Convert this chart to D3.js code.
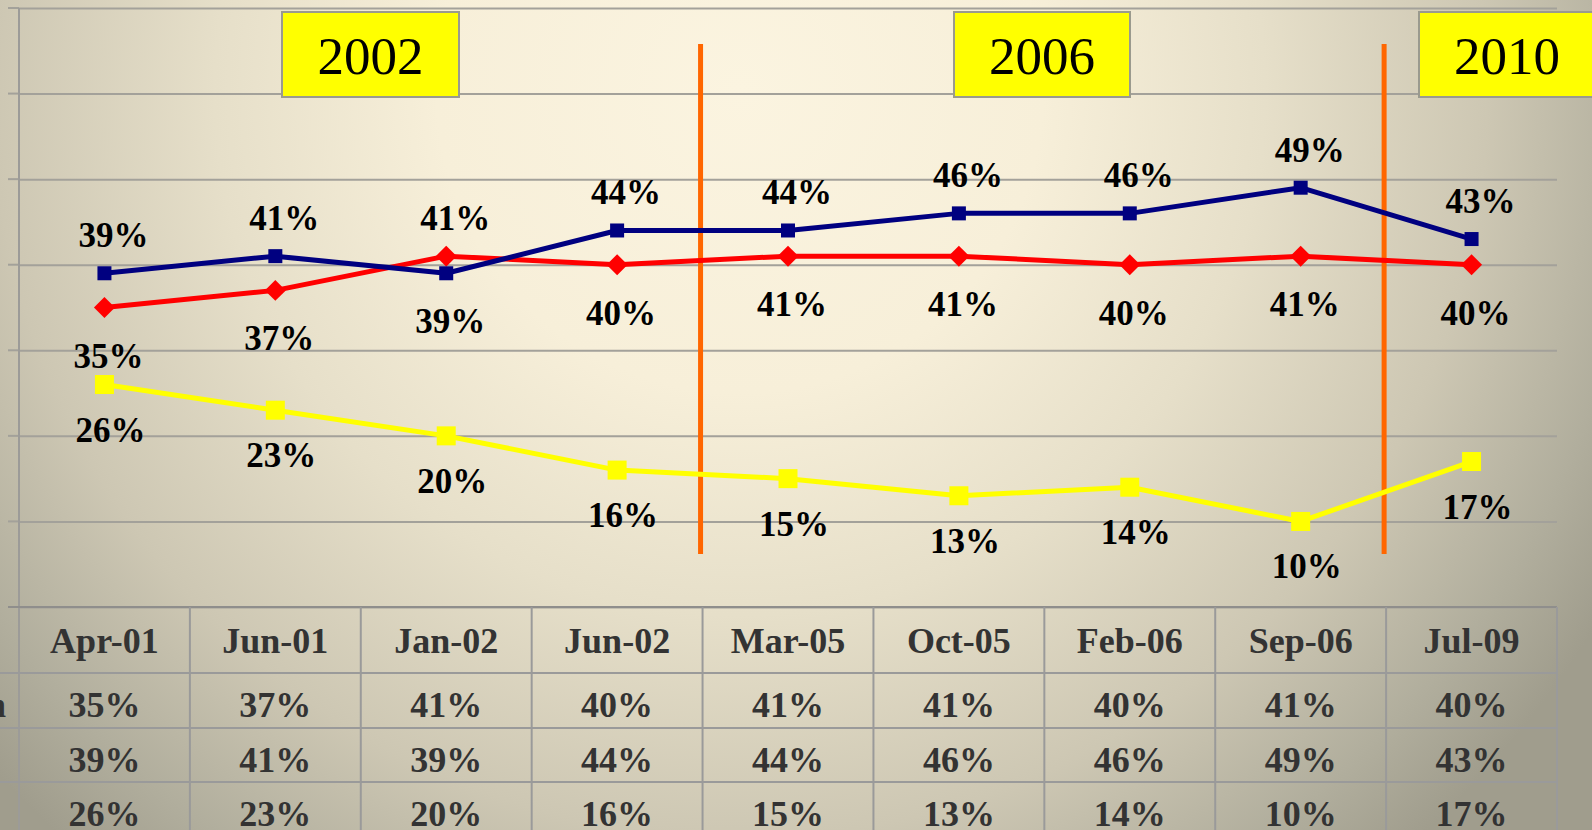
<!DOCTYPE html>
<html>
<head>
<meta charset="utf-8">
<script src="https://cdn.jsdelivr.net/npm/d3@7/dist/d3.min.js"></script>
<style>
  html, body { margin: 0; padding: 0; overflow: hidden; background: #c8c2ae; }
  svg { display: block; }
</style>
</head>
<body>
<svg id="chart" width="1592" height="830"></svg>
<script>
// ---- data ----
const categories = ["Apr-01", "Jun-01", "Jan-02", "Jun-02", "Mar-05", "Oct-05", "Feb-06", "Sep-06", "Jul-09"];
const redValues = [35, 37, 41, 40, 41, 41, 40, 41, 40];
const blueValues = [39, 41, 39, 44, 44, 46, 46, 49, 43];
const yellowValues = [26, 23, 20, 16, 15, 13, 14, 10, 17];
const yTicks = [0, 10, 20, 30, 40, 50, 60, 70];
const yearLabels = ["2002", "2006", "2010"];
const rowLabels = ["Opposition", "", ""];

(function () {
// ---- layout ----
const W = 1592, H = 830;
const pLeft = 19, pRight = 1557, pTop = 8, pBottom = 607;
const FONT = "'Liberation Serif', 'Times New Roman', serif";

const svg = d3.select("#chart");
const defs = svg.append("defs");
const grad = defs.append("radialGradient")
  .attr("id", "bg").attr("gradientUnits", "userSpaceOnUse")
  .attr("cx", 740).attr("cy", 90).attr("r", 1010);
[[0, "#fbf4e0"], [0.3, "#f7efd9"], [0.52, "#e6dfc9"], [0.74, "#cdc7b3"], [0.9, "#b1ae9d"], [1, "#a09d8d"]]
  .forEach(([o, c]) => grad.append("stop").attr("offset", o).attr("stop-color", c));
svg.append("rect").attr("width", W).attr("height", H).attr("fill", "url(#bg)");

const x = d3.scaleBand().domain(categories).range([pLeft, pRight]).paddingInner(0).paddingOuter(0);
const cx = d => x(d) + x.bandwidth() / 2;
const y = d3.scaleLinear().domain([0, 70]).range([pBottom, pTop]);

// gridlines
const yAxis = d3.axisLeft(y).tickValues(yTicks).tickSize(-(pRight - pLeft)).tickFormat("");
const gAxis = svg.append("g").attr("transform", `translate(${pLeft},0)`).call(yAxis);
gAxis.select(".domain").remove();
gAxis.selectAll(".tick line").attr("stroke", "#a3a19a").attr("stroke-width", 2);
svg.append("g").selectAll("line").data(yTicks).join("line")
  .attr("x1", 8).attr("x2", pLeft).attr("y1", d => y(d)).attr("y2", d => y(d))
  .attr("stroke", "#a3a19a").attr("stroke-width", 2);
svg.append("line").attr("x1", pLeft).attr("x2", pLeft).attr("y1", pTop).attr("y2", H)
  .attr("stroke", "#9c9b98").attr("stroke-width", 2);

// ---- table ----
const rowEdges = [pBottom, 673, 728, 782, 840];
const tbl = svg.append("g");
tbl.append("line").attr("x1", 8).attr("x2", pRight).attr("y1", pBottom).attr("y2", pBottom)
  .attr("stroke", "#8f8e8c").attr("stroke-width", 2);
rowEdges.slice(1, 4).forEach(r => tbl.append("line").attr("x1", 0).attr("x2", pRight)
  .attr("y1", r).attr("y2", r).attr("stroke", "#9a9a9a").attr("stroke-width", 2));
categories.forEach(c => tbl.append("line").attr("x1", x(c) + x.bandwidth()).attr("x2", x(c) + x.bandwidth())
  .attr("y1", pBottom).attr("y2", H).attr("stroke", "#9a9a9a").attr("stroke-width", 2));

const tableRows = [redValues, blueValues, yellowValues];
const baselines = [653, 717, 772, 826];
tbl.selectAll("text.hdr").data(categories).join("text")
  .attr("class", "hdr")
  .attr("x", d => cx(d)).attr("y", baselines[0])
  .attr("text-anchor", "middle").attr("font-family", FONT).attr("font-weight", "bold")
  .attr("font-size", 36).attr("fill", "#333").text(d => d);
tableRows.forEach((vals, i) => {
  tbl.append("g").selectAll("text").data(vals).join("text")
    .attr("x", (d, j) => cx(categories[j])).attr("y", baselines[i + 1])
    .attr("text-anchor", "middle").attr("font-family", FONT).attr("font-weight", "bold")
    .attr("font-size", 36).attr("fill", "#333").text(d => d + "%");
  tbl.append("text").attr("x", 6).attr("y", baselines[i + 1]).attr("text-anchor", "end")
    .attr("font-family", FONT).attr("font-weight", "bold").attr("font-size", 36)
    .attr("fill", "#333").text(rowLabels[i]);
});

// ---- orange separators ----
const seps = [[3, 4], [7, 8]];
svg.append("g").selectAll("line").data(seps).join("line")
  .attr("x1", d => (cx(categories[d[0]]) + cx(categories[d[1]])) / 2 - 2)
  .attr("x2", d => (cx(categories[d[0]]) + cx(categories[d[1]])) / 2 - 2)
  .attr("y1", 44).attr("y2", 554)
  .attr("stroke", "#ff6600").attr("stroke-width", 5);

// ---- year boxes ----
const boxes = [[282, 177], [954, 176], [1419, 200]];
yearLabels.forEach((t, i) => {
  const [bx, bw] = boxes[i];
  svg.append("rect").attr("x", bx).attr("y", 12).attr("width", bw).attr("height", 85)
    .attr("fill", "#ffff00").attr("stroke", "#9a9a8e").attr("stroke-width", 2);
  svg.append("text").attr("x", i === 2 ? bx + 88 : bx + bw / 2).attr("y", 74)
    .attr("text-anchor", "middle").attr("font-family", FONT).attr("font-size", 53)
    .attr("fill", "#000").text(t);
});

// ---- lines ----
const line = d3.line().x((d, i) => cx(categories[i])).y(d => y(d));
const series = [
  { vals: yellowValues, color: "#ffff00" },
  { vals: redValues, color: "#ff0000" },
  { vals: blueValues, color: "#000080" }
];
series.forEach(s => {
  svg.append("path").datum(s.vals).attr("d", line)
    .attr("fill", "none").attr("stroke", s.color).attr("stroke-width", 5)
    .attr("stroke-linejoin", "round");
});
svg.append("g").selectAll("rect").data(yellowValues).join("rect")
  .attr("x", (d, i) => cx(categories[i]) - 9.5).attr("y", d => y(d) - 9.5)
  .attr("width", 19).attr("height", 19).attr("fill", "#ffff00");
svg.append("g").selectAll("path").data(redValues).join("path")
  .attr("d", d3.symbol().type(d3.symbolSquare).size(220))
  .attr("transform", (d, i) => `translate(${cx(categories[i])},${y(d)}) rotate(45)`)
  .attr("fill", "#ff0000");
svg.append("g").selectAll("rect").data(blueValues).join("rect")
  .attr("x", (d, i) => cx(categories[i]) - 7).attr("y", d => y(d) - 7)
  .attr("width", 14).attr("height", 14).attr("fill", "#000080");

// ---- data labels ----
const lab = svg.append("g").attr("font-family", FONT).attr("font-weight", "bold")
  .attr("font-size", 35).attr("fill", "#000").attr("text-anchor", "middle");
categories.forEach((c, i) => {
  const r = redValues[i], b = blueValues[i];
  const upper = b >= r ? b : r, lower = b >= r ? r : b;
  lab.append("text").attr("x", cx(c) + 9).attr("y", y(upper) - 26).text(upper + "%");
  lab.append("text").attr("x", cx(c) + 4).attr("y", y(lower) + 60).text(lower + "%");
  lab.append("text").attr("x", cx(c) + 6).attr("y", y(yellowValues[i]) + 57).text(yellowValues[i] + "%");
});
})();
</script>
</body>
</html>
